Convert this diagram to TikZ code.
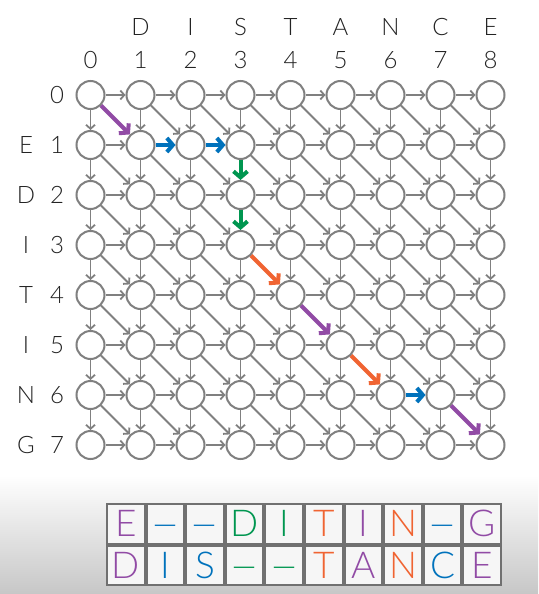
\documentclass[tikz,border=0pt]{standalone}
\usepackage{fontspec}
\setmainfont{Lato Light}
\usetikzlibrary{arrows.meta}
\definecolor{gr}{RGB}{128,128,128}
\definecolor{ppl}{RGB}{145,75,165}
\definecolor{blu}{RGB}{0,114,188}
\definecolor{grn}{RGB}{0,150,80}
\definecolor{org}{RGB}{240,100,50}
\definecolor{lbl}{RGB}{35,35,35}
\definecolor{tgray}{RGB}{112,112,112}
\definecolor{cellbg}{RGB}{246,246,246}
\begin{document}
\begin{tikzpicture}[x=1pt,y=-1pt,
  cellc/.style={circle, draw=gr, line width=2pt, minimum size=28pt, inner sep=0pt, fill=white},
  gedge/.style={draw=gr, line width=1.8pt, -{Straight Barb[length=4pt,width=9pt]}},
  hl/.style={line width=4pt, -{Straight Barb[length=6pt,width=14pt]}},
  lab/.style={font=\fontsize{24}{24}\selectfont, text=lbl, inner sep=0pt},
  tcell/.style={fill=cellbg, minimum width=35.6pt, minimum height=37.5pt, inner sep=0pt, text height=26pt, text depth=0pt, font=\fontsize{37}{37}\selectfont}
]
\useasboundingbox (0,0) rectangle (538,594);
\fill[white] (0,0) rectangle (538,594);
\shade[top color=white, bottom color=black!22] (0,475) rectangle (538,594);
% column labels
\foreach \c/\l in {0/,1/D,2/I,3/S,4/T,5/A,6/N,7/C,8/E} {
  \node[lab] (cn\c) at (90.5+50*\c,60) {\c};
  \node[lab] (cl\c) at (90.5+50*\c,27) {\l};
}
\foreach \r/\l in {0/,1/E,2/D,3/I,4/T,5/I,6/N,7/G} {
  \node[lab] (rn\r) at (57,95+50*\r) {\r};
  \node[lab] (rl\r) at (26,95+50*\r) {\l};
}
% nodes
\foreach \r in {0,...,7} {
  \foreach \c in {0,...,8} {
    \node[cellc] (n-\r-\c) at (90.5+50*\c,95+50*\r) {};
  }
}
% skip list
\foreach \a/\b in {0-0/1-1,1-1/1-2,1-2/1-3,1-3/2-3,2-3/3-3,3-3/4-4,4-4/5-5,5-5/6-6,6-6/6-7,6-7/7-8} {
  \expandafter\gdef\csname sk@\a/\b\endcsname{}
}
% gray edges
\foreach \r in {0,...,7} {
  \foreach \c in {0,...,8} {
    \pgfmathtruncatemacro{\rr}{\r+1}
    \pgfmathtruncatemacro{\cc}{\c+1}
    \ifnum\c<8
      \ifcsname sk@\r-\c/\r-\cc\endcsname\else
        \draw[gedge] (n-\r-\c) -- (n-\r-\cc);
      \fi
    \fi
    \ifnum\r<7
      \ifcsname sk@\r-\c/\rr-\c\endcsname\else
        \draw[gedge] (n-\r-\c) -- (n-\rr-\c);
      \fi
      \ifnum\c<8
        \ifcsname sk@\r-\c/\rr-\cc\endcsname\else
          \draw[gedge] (n-\r-\c) -- (n-\rr-\cc);
        \fi
      \fi
    \fi
  }
}
% highlighted path
\draw[hl, ppl] (n-0-0) -- (n-1-1);
\draw[hl, blu] (n-1-1) -- (n-1-2);
\draw[hl, blu] (n-1-2) -- (n-1-3);
\draw[hl, grn] (n-1-3) -- (n-2-3);
\draw[hl, grn] (n-2-3) -- (n-3-3);
\draw[hl, org] (n-3-3) -- (n-4-4);
\draw[hl, ppl] (n-4-4) -- (n-5-5);
\draw[hl, org] (n-5-5) -- (n-6-6);
\draw[hl, blu] (n-6-6) -- (n-6-7);
\draw[hl, ppl] (n-6-7) -- (n-7-8);
% alignment table
\fill[tgray] (106,503) rectangle (502,586);
\newcommand\gapdash{\scalebox{1.4}[1]{–}}
\foreach \i/\t/\tc/\b/\bc in {0/E/ppl/D/ppl, 1/\gapdash/blu/I/blu, 2/\gapdash/blu/S/blu, 3/D/grn/\gapdash/grn, 4/I/grn/\gapdash/grn, 5/T/org/T/org, 6/I/ppl/A/ppl, 7/N/org/N/org, 8/\gapdash/blu/C/blu, 9/G/ppl/E/ppl} {
  \node[tcell, text=\tc] (ta\i) at (106+39.6*\i+19.8, 503+20.75) {\t};
  \node[tcell, text=\bc] (tb\i) at (106+39.6*\i+19.8, 544.5+20.75) {\b};
}
\end{tikzpicture}
\end{document}
